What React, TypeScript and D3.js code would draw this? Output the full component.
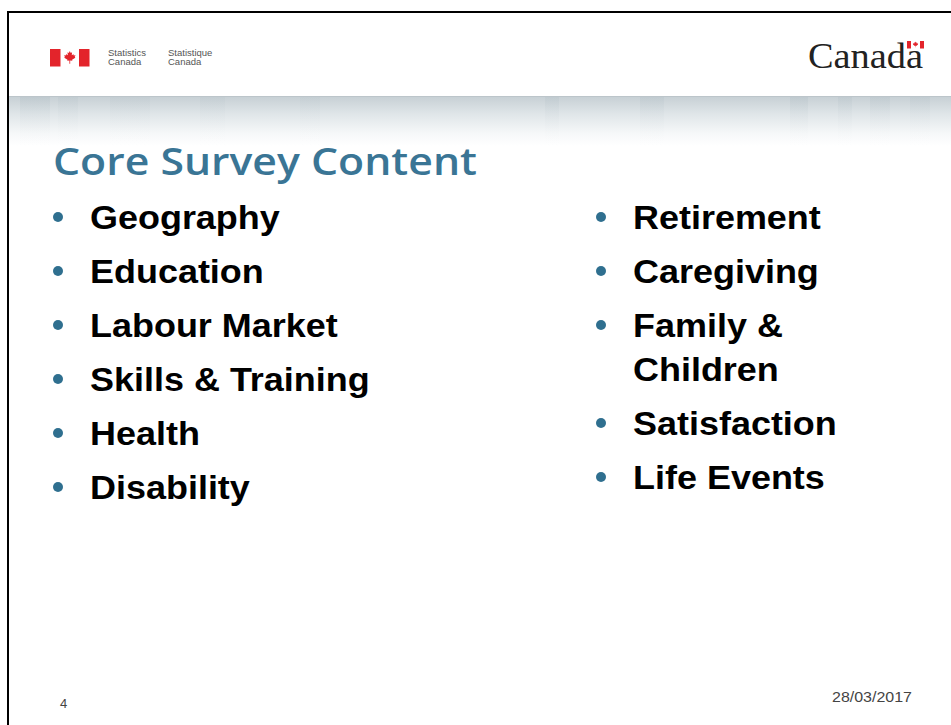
import React from "react";
import * as d3 from "d3";

const TITLE = "Core Survey Content";
const LEFT_ITEMS: string[][] = [
  ["Geography"],
  ["Education"],
  ["Labour Market"],
  ["Skills & Training"],
  ["Health"],
  ["Disability"],
];
const RIGHT_ITEMS: string[][] = [
  ["Retirement"],
  ["Caregiving"],
  ["Family &", "Children"],
  ["Satisfaction"],
  ["Life Events"],
];
const PAGE_NUMBER = "4";
const DATE_LABEL = "28/03/2017";
const DEPT_EN = ["Statistics", "Canada"];
const DEPT_FR = ["Statistique", "Canada"];
const WORDMARK = "Canada";

const W = 951;
const H = 725;
const RED = "#e3242b";
const BLUE = "#2f6f8f";
const TITLE_BLUE = "#3a7595";

const LEAF: [number, number][] = [
  [0, -1], [0.15, -0.7], [0.35, -0.8], [0.3, -0.35], [0.6, -0.55], [0.55, -0.35],
  [0.9, -0.3], [0.75, -0.1], [0.85, 0.05], [0.35, 0.35], [0.4, 0.5], [0.06, 0.45],
  [0.06, 0.95], [-0.06, 0.95], [-0.06, 0.45], [-0.4, 0.5], [-0.35, 0.35],
  [-0.85, 0.05], [-0.75, -0.1], [-0.9, -0.3], [-0.55, -0.35], [-0.6, -0.55],
  [-0.3, -0.35], [-0.35, -0.8], [-0.15, -0.7],
];

function Leaf({ cx, cy, r }: { cx: number; cy: number; r: number }) {
  const line = d3.line<[number, number]>().x((d) => cx + d[0] * r).y((d) => cy + d[1] * r);
  return <path d={line(LEAF)! + "Z"} fill={RED} />;
}

type Row = { lines: string[]; y: number };

function layout(items: string[][], start: number, step: number, cont: number): Row[] {
  const rows: Row[] = [];
  let y = start;
  items.forEach((lines) => {
    rows.push({ lines, y });
    y += step + (lines.length - 1) * cont;
  });
  return rows;
}

function BulletList({ rows, x, textX }: { rows: Row[]; x: number; textX: number }) {
  return (
    <g>
      {rows.map((r, i) => (
        <g key={i}>
          <circle cx={x} cy={r.y - 12} r={5} fill={BLUE} />
          {r.lines.map((ln, j) => (
            <text
              key={j}
              transform={`translate(${textX},${r.y + j * 44}) scale(1.09,1)`}
              fontFamily="'Liberation Sans', Arial, sans-serif"
              fontWeight="bold"
              fontSize={33}
              fill="#000"
            >
              {ln}
            </text>
          ))}
        </g>
      ))}
    </g>
  );
}

export default function App() {
  const leftRows = layout(LEFT_ITEMS, 229, 54, 44);
  const rightRows = layout(RIGHT_ITEMS, 229, 54, 44);
  const stripes = [
    [20, 30, 0.3], [58, 20, 0.2], [110, 40, 0.15], [200, 25, 0.15], [300, 20, 0.12],
    [545, 14, 0.25], [640, 24, 0.25], [790, 18, 0.3], [838, 14, 0.25], [870, 20, 0.25], [910, 20, 0.2],
  ];
  return (
    <svg
      width={W}
      height={H}
      style={{ position: "absolute", left: 0, top: 0, display: "block" }}
      xmlns="http://www.w3.org/2000/svg"
    >
      <defs>
        <linearGradient id="band" x1="0" y1="0" x2="0" y2="1">
          <stop offset="0" stopColor="#c6cfd4" />
          <stop offset="0.35" stopColor="#dfe5e8" />
          <stop offset="0.75" stopColor="#f6f8f9" />
          <stop offset="1" stopColor="#ffffff" />
        </linearGradient>
        <linearGradient id="stripe" x1="0" y1="0" x2="0" y2="1">
          <stop offset="0" stopColor="#9fb0b8" stopOpacity="0.7" />
          <stop offset="1" stopColor="#ffffff" stopOpacity="0" />
        </linearGradient>
      </defs>
      <rect x={0} y={0} width={W} height={H} fill="#fff" />
      {/* header band */}
      <rect x={9} y={96} width={W} height={50} fill="url(#band)" />
      {stripes.map(([x, w, o], i) => (
        <rect key={i} x={x} y={97} width={w} height={52} fill="url(#stripe)" opacity={o} />
      ))}
      <line x1={9} x2={W} y1={96.5} y2={96.5} stroke="#bcc5ca" strokeWidth={1} />

      {/* slide frame */}
      <line x1={8} x2={W} y1={12} y2={12} stroke="#000" strokeWidth={2} />
      <line x1={8} x2={8} y1={11} y2={H} stroke="#000" strokeWidth={2} />

      {/* StatCan signature */}
      <rect x={50} y={49} width={10.5} height={17.5} fill={RED} />
      <rect x={79} y={49} width={10.5} height={17.5} fill={RED} />
      <Leaf cx={69.8} cy={57.5} r={6.5} />
      {DEPT_EN.map((t, i) => (
        <text key={"en" + i} x={108} y={55.5 + i * 9.5} fontFamily="'Liberation Sans', Arial, sans-serif" fontSize={9.5} fill="#555">
          {t}
        </text>
      ))}
      {DEPT_FR.map((t, i) => (
        <text key={"fr" + i} x={168} y={55.5 + i * 9.5} fontFamily="'Liberation Sans', Arial, sans-serif" fontSize={9.5} fill="#555">
          {t}
        </text>
      ))}

      {/* Canada wordmark */}
      <text
        x={808}
        y={68}
        fontFamily="'Liberation Serif', 'Times New Roman', serif"
        fontSize={35}
        fill="#222"
        textLength={115}
        lengthAdjust="spacingAndGlyphs"
      >
        {WORDMARK}
      </text>
      <rect x={907} y={41} width={4} height={7.5} fill={RED} />
      <rect x={920} y={41} width={4} height={7.5} fill={RED} />
      <Leaf cx={915.5} cy={44.5} r={3} />

      {/* title */}
      <text
        x={53}
        y={175}
        fontFamily="'Open Sans', 'DejaVu Sans', sans-serif"
        fontWeight={600}
        fontSize={38}
        fill={TITLE_BLUE}
        textLength={424}
        lengthAdjust="spacingAndGlyphs"
      >
        {TITLE}
      </text>

      <BulletList rows={leftRows} x={58} textX={90} />
      <BulletList rows={rightRows} x={601} textX={633} />

      {/* footer */}
      <text x={60} y={708} fontFamily="'Liberation Sans', Arial, sans-serif" fontSize={13} fill="#444">
        {PAGE_NUMBER}
      </text>
      <text
        x={832}
        y={702}
        fontFamily="'Liberation Sans', Arial, sans-serif"
        fontSize={14}
        fill="#444"
        textLength={80}
        lengthAdjust="spacingAndGlyphs"
      >
        {DATE_LABEL}
      </text>
    </svg>
  );
}
